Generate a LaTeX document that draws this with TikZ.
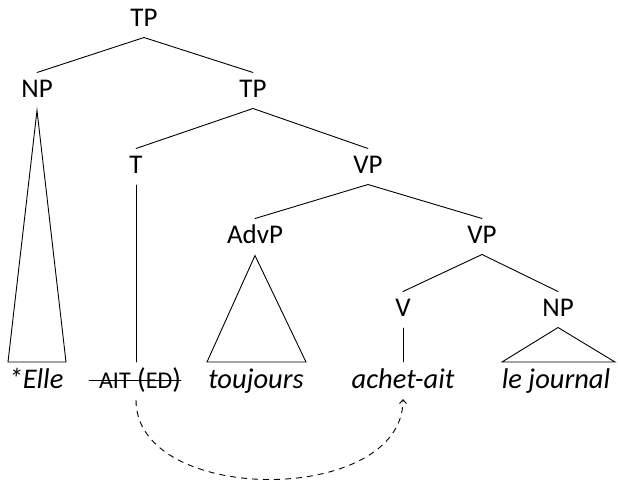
\documentclass[tikz,border=0pt]{standalone}
\usepackage{fontspec}
\setmainfont{Carlito}
\usetikzlibrary{arrows.meta}
\newcommand{\smc}[1]{{\fontsize{24}{26}\selectfont #1}}
\begin{document}
\begin{tikzpicture}[x=1pt,y=-1pt,
  lab/.style={inner sep=0pt, outer sep=0pt, text height=17pt, text depth=0pt, font=\fontsize{27}{30}\selectfont},
  word/.style={inner sep=0pt, outer sep=0pt, anchor=base, text height=19pt, text depth=6pt, font=\fontsize{28.5}{31}\selectfont\itshape},
  plainword/.style={word, font=\fontsize{28.5}{31}\selectfont},
  edge/.style={line width=0.9pt, line cap=round, line join=miter},
  movearrow/.style={line width=0.9pt, dash pattern=on 6pt off 5pt, -{Straight Barb[length=4pt,width=7pt,line width=0.9pt]}},
]
\useasboundingbox (0,0) rectangle (618,480);
% labels
\node[lab] (tp1) at (144,18) {TP};
\node[lab] (np1) at (37,89) {NP};
\node[lab] (tp2) at (253,89) {TP};
\node[lab] (t) at (136,165) {T};
\node[lab] (vp1) at (368,165) {VP};
\node[lab] (advp) at (255,235) {AdvP};
\node[lab] (vp2) at (482,235) {VP};
\node[lab] (v) at (403,308) {V};
\node[lab] (np2) at (558,308) {NP};
% words
\node[word] (elle) at (36,388) {*Elle};
\node[plainword] (ait) at (140,388) {\smc{AIT} (\smc{ED})};
\node[word] (tjs) at (256,388) {toujours};
\node[word] (achet) at (403,388) {achet-ait};
\node[word] (jrn) at (556,388) {le journal};
% coordinates
\coordinate (np1l) at (8,362);
\coordinate (np1r) at (66,362);
\coordinate (advl) at (207,362);
\coordinate (advr) at (306,362);
\coordinate (np2l) at (502,362);
\coordinate (np2r) at (615,362);
\coordinate (tbot) at (136,362);
\coordinate (vbot) at (403,362);
\coordinate (arcS) at (136,400);
\coordinate (arcE) at (403,399);
% branches
\draw[edge] ([yshift=-11pt]tp1.south) -- ([yshift=8pt]np1.north);
\draw[edge] ([yshift=-11pt]tp1.south) -- ([yshift=8pt]tp2.north);
\draw[edge] ([yshift=-11pt]tp2.south) -- ([yshift=8pt]t.north);
\draw[edge] ([yshift=-11pt]tp2.south) -- ([yshift=8pt]vp1.north);
\draw[edge] ([yshift=-11pt]vp1.south) -- ([yshift=8pt]advp.north);
\draw[edge] ([yshift=-11pt]vp1.south) -- ([yshift=8pt]vp2.north);
\draw[edge] ([yshift=-11pt]vp2.south) -- ([yshift=8pt]v.north);
\draw[edge] ([yshift=-11pt]vp2.south) -- ([yshift=8pt]np2.north);
% triangles
\draw[edge] ([yshift=-13pt]np1.south) -- (np1l) -- (np1r) -- cycle;
\draw[edge] ([yshift=-12pt]advp.south) -- (advl) -- (advr) -- cycle;
\draw[edge] ([yshift=-11pt]np2.south) -- (np2l) -- (np2r) -- cycle;
% unary lines
\draw[edge] ([yshift=-11.5pt]t.south) -- (tbot);
\draw[edge] ([yshift=-11.5pt]v.south) -- (vbot);
% strike-through
\draw[edge] ([xshift=-10pt,yshift=1.5pt]ait.west) -- ([yshift=1.5pt]ait.east);
% movement arrow
\draw[movearrow] (arcS) .. controls (136,506) and (403,506) .. (arcE);
\end{tikzpicture}
\end{document}
